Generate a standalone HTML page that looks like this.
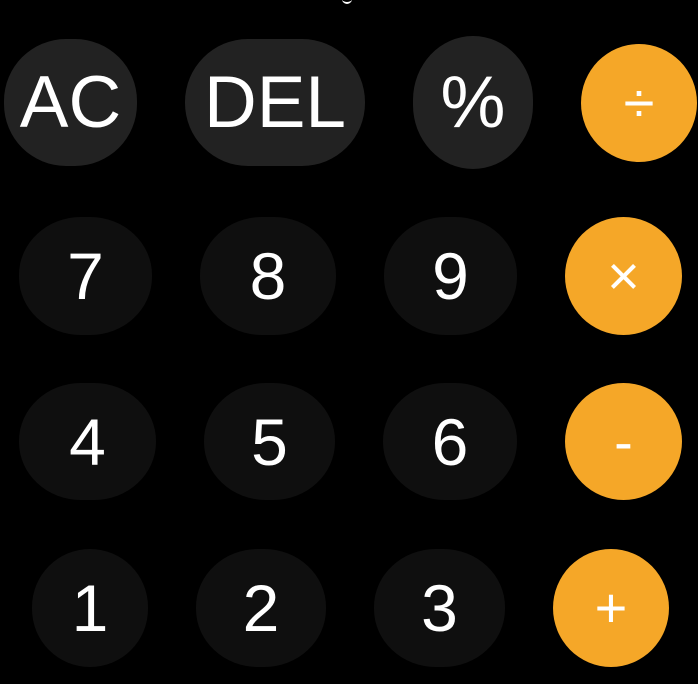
<!DOCTYPE html>
<html><head><meta charset="utf-8"><style>
html,body{margin:0;padding:0;background:#000;width:698px;height:684px;overflow:hidden;position:relative;font-family:"Liberation Sans",sans-serif}
.b{position:absolute;display:flex;align-items:center;justify-content:center;color:#fff;border-radius:50%/50%;}
.f{background:#222}
.n{background:#0f0f0f}
.o{background:#f5a728}
.t{font-size:73px;line-height:1}
.d{font-size:66px;line-height:1}
.op{font-size:56px;line-height:1}
</style></head><body>
<div style="position:absolute;left:342px;top:-4px;width:10px;height:6px;border-bottom:2px solid #fff;border-radius:0 0 6px 6px"></div>
<div class="b f t" style="left:4px;top:39px;width:133px;height:127px;border-radius:62px">AC</div>
<div class="b f t" style="left:185px;top:39px;width:180px;height:127px;border-radius:63px">DEL</div>
<div class="b f t" style="left:413px;top:36px;width:120px;height:133px;border-radius:60px/64px">%</div>
<div class="b o op" style="left:581px;top:44px;width:116px;height:118px">÷</div>

<div class="b n d" style="left:19px;top:217px;width:133px;height:118px;border-radius:62px/58px">7</div>
<div class="b n d" style="left:200px;top:217px;width:136px;height:118px;border-radius:62px/58px">8</div>
<div class="b n d" style="left:384px;top:217px;width:133px;height:118px;border-radius:62px/58px">9</div>
<div class="b o op" style="left:565px;top:217px;width:117px;height:118px">×</div>

<div class="b n d" style="left:19px;top:383px;width:137px;height:117px;border-radius:62px/58px">4</div>
<div class="b n d" style="left:204px;top:383px;width:131px;height:117px;border-radius:62px/58px">5</div>
<div class="b n d" style="left:383px;top:383px;width:134px;height:117px;border-radius:62px/58px">6</div>
<div class="b o op" style="left:565px;top:383px;width:117px;height:117px">-</div>

<div class="b n d" style="left:32px;top:549px;width:116px;height:118px;border-radius:58px">1</div>
<div class="b n d" style="left:196px;top:549px;width:130px;height:118px;border-radius:62px/58px">2</div>
<div class="b n d" style="left:374px;top:549px;width:131px;height:118px;border-radius:62px/58px">3</div>
<div class="b o op" style="left:553px;top:549px;width:116px;height:118px">+</div>
</body></html>
